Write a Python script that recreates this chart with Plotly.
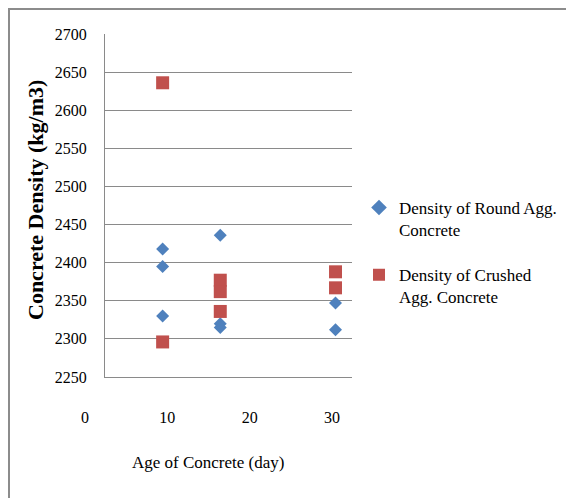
import plotly.graph_objects as go

# Data
round_age = [7, 7, 7, 14, 14, 14, 28, 28]
round_density = [2418, 2395, 2330, 2436, 2320, 2315, 2347, 2312]
crushed_age = [7, 7, 14, 14, 14, 28, 28]
crushed_density = [2636, 2296, 2377, 2362, 2336, 2388, 2367]

x_ticks = [0, 10, 20, 30]
y_ticks = [2250, 2300, 2350, 2400, 2450, 2500, 2550, 2600, 2650, 2700]

FONT = "Liberation Serif"
GRID = "#8a8a8a"

# page body has an 8px margin, so the figure is 8px smaller than the window
OFF = 8
W, H = 574 - OFF, 498 - OFF
L, T = 105 - OFF, 34 - OFF
R = W - (352 - OFF)
B = H - (377 - OFF)
pw = W - L - R
ph = H - T - B

def px(x):
    # reference-window pixel -> paper coordinate
    return (x - OFF - L) / pw

def py(y):
    return (H - B - (y - OFF)) / ph

fig = go.Figure()
fig.add_trace(go.Scatter(
    x=round_age, y=round_density, mode="markers",
    name="Density of Round Agg.<br>Concrete", legendgroup="round",
    marker=dict(symbol="diamond", size=10, color="#4F81BD"),
))
fig.add_trace(go.Scatter(
    x=crushed_age, y=crushed_density, mode="markers",
    name="Density of Crushed<br>Agg. Concrete", legendgroup="crushed",
    marker=dict(symbol="square", size=13, color="#C0504D"),
))

fig.update_layout(
    width=W, height=H,
    margin=dict(l=L, r=R, t=T, b=B, autoexpand=False),
    paper_bgcolor="white", plot_bgcolor="white",
    font=dict(family=FONT, size=16, color="black"),
    showlegend=True,
    legend=dict(
        x=px(359), y=py(190), xanchor="left", yanchor="top",
        font=dict(family=FONT, size=17, color="black"),
        tracegroupgap=20, itemsizing="constant", valign="top",
        bgcolor="rgba(0,0,0,0)",
    ),
    xaxis=dict(
        range=[0, 30], tickvals=x_ticks, showgrid=False, zeroline=False,
        showline=True, linecolor=GRID, linewidth=1, ticks="",
        ticklabelstandoff=26, ticklabelshift=-20,
        tickfont=dict(family=FONT, size=16, color="black"),
    ),
    yaxis=dict(
        range=[2250, 2700], tickvals=y_ticks, showgrid=True, gridcolor=GRID,
        gridwidth=1, zeroline=False, showline=True, linecolor=GRID,
        linewidth=1, ticks="", ticklabelstandoff=14,
        tickfont=dict(family=FONT, size=16, color="black"),
    ),
    annotations=[
        dict(text="Age of Concrete (day)", xref="paper", yref="paper",
             x=px(208), y=py(462), xanchor="center", yanchor="middle",
             showarrow=False, font=dict(family=FONT, size=17, color="black")),
        dict(text="<b>Concrete Density (kg/m3)</b>", xref="paper", yref="paper",
             x=px(35), y=py(200), xanchor="center", yanchor="middle",
             textangle=-90, showarrow=False,
             font=dict(family=FONT, size=22, color="black")),
    ],
    shapes=[
        dict(type="rect", xref="paper", yref="paper",
             x0=px(OFF + 1), x1=px(572), y0=py(510), y1=py(9),
             line=dict(color="#8c8c8c", width=2), fillcolor="rgba(0,0,0,0)",
             layer="below"),
    ],
)

fig.write_html("out.html")
